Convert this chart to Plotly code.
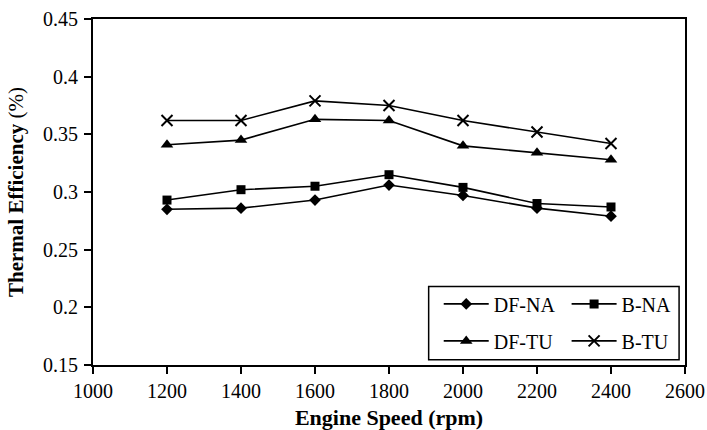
import plotly.graph_objects as go

# Engine speed (rpm)
speed = [1200, 1400, 1600, 1800, 2000, 2200, 2400]

# Thermal efficiency per configuration
df_na = [0.285, 0.286, 0.293, 0.306, 0.297, 0.286, 0.279]
b_na = [0.293, 0.302, 0.305, 0.315, 0.304, 0.290, 0.287]
df_tu = [0.341, 0.345, 0.363, 0.362, 0.340, 0.334, 0.328]
b_tu = [0.362, 0.362, 0.379, 0.375, 0.362, 0.352, 0.342]

FONT = "Liberation Serif, Times New Roman, serif"

series = [
    ("DF-NA", df_na, "diamond", 9, "legend"),
    ("DF-TU", df_tu, "triangle-up", 11, "legend"),
    ("B-NA", b_na, "square", 9, "legend2"),
    ("B-TU", b_tu, "x-thin", 11, "legend2"),
]

fig = go.Figure()
for name, vals, sym, size, leg in series:
    fig.add_trace(go.Scatter(
        x=speed, y=vals, name=name, mode="lines+markers",
        line=dict(color="black", width=1.6),
        marker=dict(symbol=sym, size=size, color="black",
                    line=dict(color="black", width=2 if sym == "x-thin" else 0)),
        legend=leg, legendgroup=name,
    ))

axis_common = dict(
    showline=True, linecolor="black", linewidth=1.8, mirror=True,
    ticks="outside", ticklen=7, tickwidth=1.5, tickcolor="black",
    showgrid=False, zeroline=False, automargin=False,
    tickfont=dict(family=FONT, size=20, color="black"),
)

legend_common = dict(
    bgcolor="rgba(0,0,0,0)", borderwidth=0,
    font=dict(family=FONT, size=20, color="black"),
    itemwidth=45, tracegroupgap=8,
    xanchor="left", yanchor="top",
)

fig.update_layout(
    width=707, height=430,
    margin=dict(l=93, r=22, t=19, b=65),
    paper_bgcolor="white", plot_bgcolor="white",
    font=dict(family=FONT, color="black"),
    xaxis=dict(range=[1000, 2600], dtick=200, tick0=1000,
               ticklabelstandoff=0,
               title=dict(text="<b>Engine Speed (rpm)</b>",
                          font=dict(family=FONT, size=22), standoff=16),
               **axis_common),
    yaxis=dict(range=[0.15, 0.45], dtick=0.05, tick0=0.15,
               ticklabelstandoff=2,
               title=dict(text="<b>Thermal Efficiency</b> (%)",
                          font=dict(family=FONT, size=21), standoff=14),
               **axis_common),
    legend=dict(x=0.584, y=0.233, **legend_common),
    legend2=dict(x=0.800, y=0.233, **legend_common),
    shapes=[dict(type="rect", xref="paper", yref="paper",
                 x0=0.567, x1=0.990, y0=0.015, y1=0.227,
                 line=dict(color="black", width=1.5))],
)

fig.write_html("out.html")
